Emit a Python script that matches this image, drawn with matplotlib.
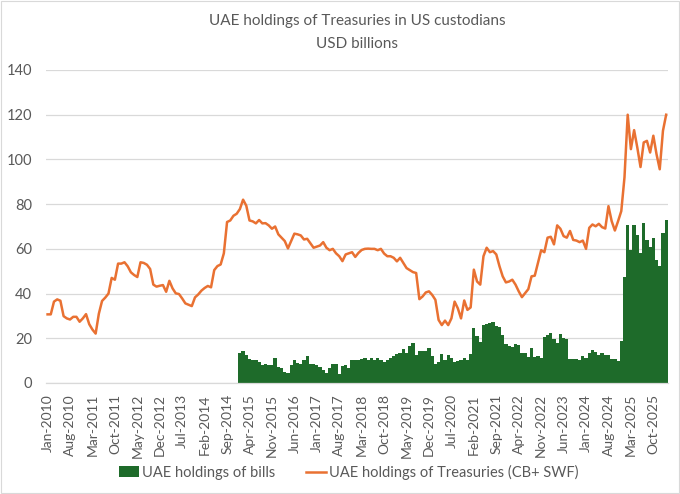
import numpy as np
import pandas as pd
import matplotlib
matplotlib.use("Agg")
import matplotlib.pyplot as plt
from matplotlib.patches import Rectangle

# monthly categories, Jan-2010 .. Feb-2026
months = pd.date_range("2010-01-01", periods=194, freq="MS")
month_labels = [d.strftime("%b-%Y") for d in months]

# UAE holdings of Treasuries (CB + SWF), USD bn
treasuries = [
    30.7, 30.7, 36.4, 37.4, 36.8, 29.9, 28.9, 28.4, 29.6, 29.6,
    27.4, 28.9, 30.8, 26.3, 23.9, 22.1, 31.0, 36.7, 38.2, 40.0,
    47.0, 46.2, 53.4, 53.4, 54.0, 52.2, 49.5, 48.3, 47.4, 54.0,
    53.7, 52.9, 51.0, 44.0, 43.1, 43.5, 43.8, 40.8, 45.7, 42.3,
    40.1, 39.8, 37.8, 35.6, 35.0, 34.4, 38.3, 39.6, 41.3, 42.5,
    43.4, 42.8, 50.5, 52.3, 53.0, 58.0, 72.0, 72.7, 74.8, 75.7,
    77.8, 82.0, 79.3, 72.7, 72.3, 71.4, 72.9, 71.4, 71.5, 70.5,
    69.0, 70.0, 66.5, 65.0, 63.5, 60.2, 63.5, 66.8, 66.5, 66.0,
    64.2, 64.5, 62.5, 60.5, 61.0, 61.5, 63.0, 60.5, 59.4, 60.0,
    58.0, 56.7, 54.5, 57.5, 58.0, 58.5, 56.4, 58.2, 59.5, 60.0,
    60.1, 60.0, 60.0, 59.4, 60.0, 57.9, 56.7, 56.7, 56.0, 54.4,
    56.0, 53.7, 51.4, 50.5, 49.6, 49.2, 37.5, 38.7, 40.5, 41.0,
    39.4, 37.2, 28.2, 25.9, 27.9, 25.9, 28.9, 36.4, 33.4, 28.9,
    36.9, 32.7, 33.8, 50.7, 45.4, 44.0, 56.7, 60.5, 58.5, 59.0,
    57.5, 52.2, 47.7, 45.0, 45.4, 46.2, 44.0, 41.0, 38.4, 40.2,
    42.0, 47.7, 48.0, 53.7, 59.4, 58.5, 65.0, 65.4, 62.0, 70.5,
    69.0, 65.7, 65.0, 68.0, 64.0, 63.7, 63.0, 63.7, 60.0, 69.4,
    70.9, 70.1, 71.2, 69.7, 69.1, 79.1, 72.4, 68.2, 72.4, 76.9,
    92.0, 120.0, 104.6, 113.1, 105.3, 96.6, 107.6, 108.3, 103.1, 110.6,
    102.3, 95.6, 112.8, 120.0,
]

# UAE holdings of bills, USD bn, from Jan-2015 on
bills_start = "2015-01"
bills = [
    13.4, 14.3, 12.4, 10.6, 10.5, 10.2, 9.4, 8.0, 8.7, 8.0,
    8.0, 11.0, 7.2, 6.5, 5.0, 4.5, 8.0, 10.2, 9.0, 8.7,
    10.2, 12.0, 8.4, 8.7, 8.0, 7.2, 5.7, 4.5, 6.5, 8.7,
    8.4, 4.2, 7.5, 8.0, 6.5, 10.2, 10.2, 10.5, 10.8, 11.4,
    10.5, 11.0, 10.5, 11.4, 10.5, 9.5, 10.5, 11.0, 12.0, 12.9,
    13.2, 15.0, 13.2, 16.5, 17.7, 12.5, 14.4, 14.4, 14.4, 15.5,
    12.0, 8.7, 9.5, 12.9, 10.2, 12.5, 11.4, 9.5, 10.0, 10.2,
    11.0, 10.5, 12.9, 24.5, 21.0, 18.5, 26.0, 26.4, 27.0, 27.5,
    25.5, 25.2, 21.5, 17.4, 16.5, 15.9, 17.4, 17.0, 13.2, 13.5,
    11.7, 15.5, 11.7, 12.0, 11.4, 20.7, 21.5, 22.2, 19.5, 18.0,
    21.9, 20.0, 19.6, 10.6, 10.6, 10.6, 10.2, 12.1, 11.2, 13.2,
    14.7, 13.9, 12.4, 13.2, 12.7, 12.7, 10.9, 10.6, 9.7, 18.7,
    47.6, 70.5, 59.5, 70.5, 66.0, 58.0, 71.5, 64.0, 61.0, 65.0,
    55.0, 52.5, 67.0, 73.0,
]

y_ticks = [0, 20, 40, 60, 80, 100, 120, 140]

GREEN = "#1E6B2A"
ORANGE = "#E97132"
GREY_TXT = "#595959"
GRID = "#D9D9D9"

plt.rcParams["font.family"] = ["Lato", "DejaVu Sans"]

x = np.arange(len(months))
pad = list(months.strftime("%Y-%m")).index(bills_start)
bills_full = np.array([np.nan] * pad + bills)

fig = plt.figure(figsize=(6.8, 4.94), dpi=100)
ax = fig.add_axes([0.0676, 0.2247, 0.9144, 0.6336])

bar_h = ax.bar(x, bills_full, width=1.02, color=GREEN, linewidth=0,
               label="UAE holdings of bills", zorder=2)
line_h, = ax.plot(x, treasuries, color=ORANGE, linewidth=1.8,
                  label="UAE holdings of Treasuries (CB+ SWF)", zorder=3)

ax.set_xlim(-0.5, len(months) - 0.5)
ax.set_ylim(0, 140)
ax.set_yticks(y_ticks)
ax.set_xticks(x[::7])
ax.set_xticklabels(month_labels[::7], rotation=90)
ax.tick_params(axis="both", length=0, labelsize=10, colors=GREY_TXT)
ax.tick_params(axis="y", labelsize=10.5, pad=10)
ax.tick_params(axis="x", pad=8)

ax.grid(axis="y", color=GRID, linewidth=0.9, zorder=0)
ax.set_axisbelow(True)
for s in ["top", "right", "left"]:
    ax.spines[s].set_visible(False)
ax.spines["bottom"].set_color(GRID)
ax.spines["bottom"].set_linewidth(0.9)

fig.text(0.525, 0.958, "UAE holdings of Treasuries in US custodians",
         ha="center", va="center", fontsize=11, color=GREY_TXT)
fig.text(0.525, 0.911, "USD billions",
         ha="center", va="center", fontsize=11, color=GREY_TXT)

fig.legend([bar_h, line_h], [bar_h.get_label(), line_h.get_label()],
           loc="center", bbox_to_anchor=(0.513, 0.044), ncol=2,
           frameon=False, fontsize=10.5, labelcolor=GREY_TXT,
           handlelength=1.4, handleheight=0.75, columnspacing=2.1,
           handletextpad=0.2)

# chart area frame
fig.patches.append(Rectangle((0.001, 0.002), 0.997, 0.996, transform=fig.transFigure,
                             fill=False, edgecolor=GRID, linewidth=0.8))

fig.savefig("out.png", dpi=100)
